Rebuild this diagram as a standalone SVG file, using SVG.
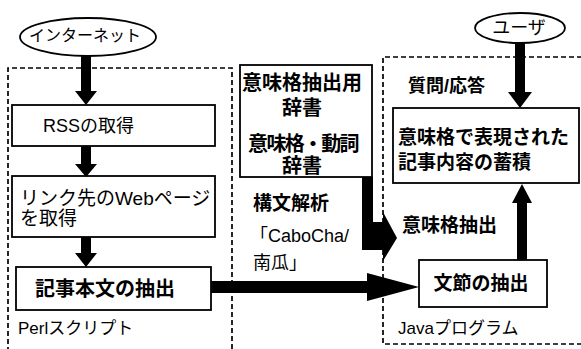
<svg xmlns="http://www.w3.org/2000/svg" width="581" height="349" viewBox="0 0 581 349">
<style>
.t{font-family:"Liberation Sans","Noto Sans CJK JP",sans-serif;fill:#000}
.b{font-weight:bold}
.box{fill:#fff;stroke:#000;stroke-width:1.8}
.cont{fill:none;stroke:#000;stroke-width:1.7;stroke-dasharray:5 3}
.arr{fill:#000;stroke:none}
</style>
<rect width="581" height="349" fill="#fff"/>
<g id="perl-container">
<path class="cont" d="M8,352 V68 H232 V352"/>
<text class="t" x="18" y="334" font-size="17">Perlスクリプト</text>
</g>
<g id="java-container">
<path class="cont" d="M590,57 H383 V344 H590"/>
<text class="t" x="398" y="334" font-size="17">Javaプログラム</text>
</g>
<g id="internet">
<ellipse cx="88" cy="37" rx="68" ry="19" fill="#fff" stroke="#000" stroke-width="1.8"/>
<text class="t" x="85" y="41" font-size="16" text-anchor="middle">インターネット</text>
</g>
<g id="user">
<ellipse cx="520" cy="28" rx="45" ry="15" fill="#fff" stroke="#000" stroke-width="1.8"/>
<text class="t" x="519" y="34" font-size="18" text-anchor="middle">ユーザ</text>
</g>
<g id="rss">
<rect class="box" x="12" y="105" width="203" height="41"/>
<text class="t" x="43" y="132" font-size="18">RSSの取得</text>
</g>
<g id="webpage">
<rect class="box" x="12" y="176" width="203" height="61"/>
<text class="t" x="20" y="205" font-size="19">リンク先のWebページ</text>
<text class="t" x="20" y="225" font-size="19">を取得</text>
</g>
<g id="article">
<rect class="box" x="16" y="267" width="195" height="43"/>
<text class="t b" x="35" y="296" font-size="20">記事本文の抽出</text>
</g>
<g id="dictionary">
<rect class="box" x="240" y="65" width="132" height="112"/>
<text class="t b" x="302" y="90" font-size="20" text-anchor="middle">意味格抽出用</text>
<text class="t b" x="302" y="115" font-size="20" text-anchor="middle">辞書</text>
<text class="t b" x="303" y="151" font-size="20" text-anchor="middle" letter-spacing="-1.7">意味格・動詞</text>
<text class="t b" x="302" y="173" font-size="20" text-anchor="middle">辞書</text>
</g>
<g id="parser">
<text class="t b" x="253" y="210" font-size="19">構文解析</text>
<text class="t" x="250" y="242" font-size="18">「CaboCha/</text>
<text class="t" x="253" y="269" font-size="18">南瓜」</text>
</g>
<g id="storage">
<rect class="box" x="393" y="108" width="186" height="75"/>
<text class="t b" x="398" y="144" font-size="19">意味格で表現された</text>
<text class="t b" x="398" y="169" font-size="19">記事内容の蓄積</text>
</g>
<g id="qa-label">
<text class="t b" x="408" y="92" font-size="18">質問/応答</text>
</g>
<g id="extract-label">
<text class="t b" x="402" y="232" font-size="19">意味格抽出</text>
</g>
<g id="bunsetsu">
<rect class="box" x="419" y="260" width="128" height="47"/>
<text class="t b" x="481" y="290" font-size="19" text-anchor="middle">文節の抽出</text>
</g>
<g id="connectors">
<polygon class="arr" points="81,56 91,56 91,91 97,91 86,105 75,91 81,91"/>
<polygon class="arr" points="81,146 91,146 91,164 97,164 86,177 75,164 81,164"/>
<polygon class="arr" points="81,237 91,237 91,253 97,253 86,267 75,253 81,253"/>
<polygon class="arr" points="211,281 367,281 367,273 419,287 367,301 367,293 211,293"/>
<polygon class="arr" points="362,177 373,177 373,222 383,222 383,212 397,238 383,261 383,250 362,250"/>
<polygon class="arr" points="515,43 525,43 525,92 532,92 520,108 508,92 515,92"/>
<polygon class="arr" points="517,260 527,260 527,203 532,203 522,184 512,203 517,203"/>
</g>
</svg>
